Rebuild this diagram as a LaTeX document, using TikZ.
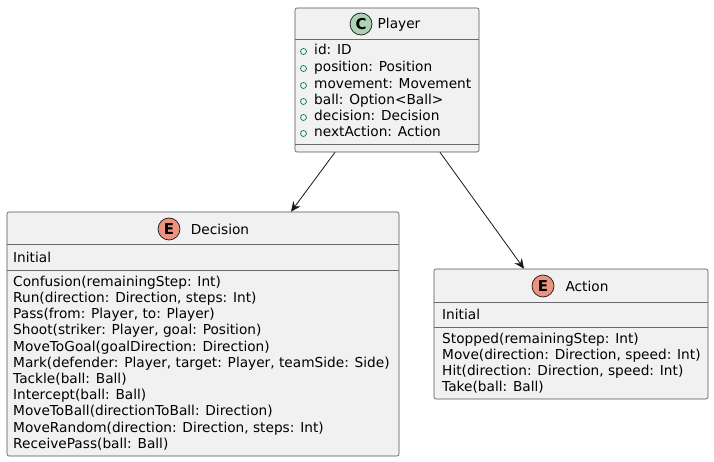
\documentclass[tikz,border=0pt]{standalone}
\usepackage{fontspec}
\setmainfont{DejaVu Sans}
\usetikzlibrary{arrows.meta,calc}
\definecolor{boxfill}{HTML}{F1F1F1}
\definecolor{boxline}{HTML}{181818}
\definecolor{cgreen}{HTML}{ADD1B2}
\definecolor{ered}{HTML}{EB937F}
\definecolor{vis}{HTML}{038048}
\begin{document}
\begin{tikzpicture}[x=1pt,y=-1pt,
  umlbox/.style={draw=boxline!75, line width=0.6pt, fill=boxfill, rounded corners=2pt, inner sep=0pt},
  sepline/.style={draw=boxline!65, line width=0.6pt},
  txt/.style={anchor=base west, inner sep=0pt, font=\fontsize{13.7}{16}\selectfont},
  title/.style={anchor=base, inner sep=0pt, font=\fontsize{13.7}{16}\selectfont},
  badge/.style={circle, draw=boxline, line width=0.7pt, minimum size=22pt, inner sep=0pt, font=\bfseries\fontsize{15}{16}\selectfont},
  visdot/.style={circle, draw=vis, line width=0.7pt, minimum size=6pt, inner sep=0pt},
  arr/.style={draw=boxline, line width=0.8pt, -{Stealth[length=10pt,width=9pt,inset=3.5pt]}}
]
\useasboundingbox (0,0) rectangle (714,462);
% Player
\node[umlbox, minimum width=184pt, minimum height=144pt] (player) at (387,80) {};
\draw[sepline] (295,39) -- (479,39);
\draw[sepline] (295,144) -- (479,144);
\node[badge, fill=cgreen] (pc) at (361,24) {C};
\node[title] (pt) at (399,29) {Player};
\foreach \y/\t [count=\i] in {50/{id: ID},67/{position: Position},84/{movement: Movement},100/{ball: Option<Ball>},116/{decision: Decision},132/{nextAction: Action}}{
  \node[visdot] (pv\i) at (303.5,\y+1.5) {};
  \node[txt] (pa\i) at (314,\y+5) {\t};
}
% Decision
\node[umlbox, minimum width=392pt, minimum height=244pt] (decision) at (203,334) {};
\draw[sepline] (7,244) -- (399,244);
\draw[sepline] (7,270) -- (399,270);
\node[badge, fill=ered] (dc) at (169,229) {E};
\node[title] (dt) at (220,234) {Decision};
\node[txt] (di) at (13,262) {Initial};
\foreach \y/\t [count=\i] in {281/{Confusion(remainingStep: Int)},297/{Run(direction: Direction, steps: Int)},313/{Pass(from: Player, to: Player)},329/{Shoot(striker: Player, goal: Position)},346/{MoveToGoal(goalDirection: Direction)},362/{Mark(defender: Player, target: Player, teamSide: Side)},378/{Tackle(ball: Ball)},394/{Intercept(ball: Ball)},410/{MoveToBall(directionToBall: Direction)},427/{MoveRandom(direction: Direction, steps: Int)},443/{ReceivePass(ball: Ball)}}{
  \node[txt] (dl\i) at (13,\y+5) {\t};
}
% Action
\node[umlbox, minimum width=274pt, minimum height=130pt] (action) at (571,334) {};
\draw[sepline] (434,302) -- (708,302);
\draw[sepline] (434,327) -- (708,327);
\node[badge, fill=ered] (ac) at (543,286) {E};
\node[title] (at) at (587,291) {Action};
\node[txt] (ai) at (442,319) {Initial};
\foreach \y/\t [count=\i] in {338/{Stopped(remainingStep: Int)},354/{Move(direction: Direction, speed: Int)},370/{Hit(direction: Direction, speed: Int)},386/{Take(ball: Ball)}}{
  \node[txt] (al\i) at (442,\y+5) {\t};
}
% connectors
\draw[arr] ($(player.south)+(-52,0)$) -- ($(decision.north)+(88,0)$);
\draw[arr] ($(player.south)+(53,0)$) -- ($(action.north)+(-47,0)$);
\end{tikzpicture}
\end{document}
